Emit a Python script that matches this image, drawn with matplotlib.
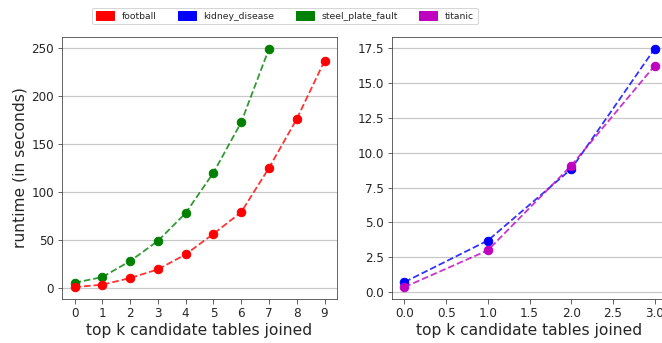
"""Runtime of joining the top-k candidate tables, per dataset."""

import matplotlib

matplotlib.use("Agg")
import matplotlib.pyplot as plt
from matplotlib.patches import Patch

# left panel: k = 0..9
k_left = [0, 1, 2, 3, 4, 5, 6, 7, 8, 9]
football = [1.0, 3.5, 10.4, 19.4, 35.0, 56.4, 79.0, 125.0, 176.0, 236.5]
steel_plate_fault = [5.5, 11.4, 28.0, 49.0, 78.0, 120.0, 172.5, 249.0]

# right panel: k = 0..3
k_right = [0, 1, 2, 3]
kidney_disease = [0.72, 3.7, 8.83, 17.45]
titanic = [0.36, 3.0, 9.07, 16.23]

names = ["football", "kidney_disease", "steel_plate_fault", "titanic"]
colors = {"football": "r", "kidney_disease": "b", "steel_plate_fault": "g", "titanic": "m"}

plt.rcParams["text.color"] = "#262626"
plt.rcParams["axes.labelcolor"] = "#262626"
plt.rcParams["xtick.color"] = "#262626"
plt.rcParams["ytick.color"] = "#262626"

DPI = 72
fig = plt.figure(figsize=(662 / DPI, 343 / DPI), dpi=DPI)
ax1 = fig.add_axes([62 / 662, 1 - 299 / 343, 275 / 662, 262 / 343])
ax2 = fig.add_axes([392 / 662, 1 - 299 / 343, 275 / 662, 262 / 343])


def draw(ax, x, y, name):
    c = colors[name]
    ax.plot(x, y, "--", color=c, lw=1.8, alpha=0.8)
    ax.plot(x, y, "o", color=c, ms=8.5, lw=0)


draw(ax1, k_left[: len(steel_plate_fault)], steel_plate_fault, "steel_plate_fault")
draw(ax1, k_left, football, "football")
draw(ax2, k_right, kidney_disease, "kidney_disease")
draw(ax2, k_right, titanic, "titanic")

ax1.set_xticks(k_left)
ax1.set_yticks([0, 50, 100, 150, 200, 250])
ax2.set_xticks([0, 0.5, 1, 1.5, 2, 2.5, 3])
ax2.set_yticks([0, 2.5, 5, 7.5, 10, 12.5, 15, 17.5])

for ax in (ax1, ax2):
    ax.set_axisbelow(True)
    ax.grid(axis="y", color="#c8c8c8", lw=1.2)
    ax.tick_params(labelsize=12, color="#404040", length=4.5)
    for s in ax.spines.values():
        s.set_color("#404040")
    ax.set_xlabel("top k candidate tables joined", fontsize=15.5, labelpad=3)
ax1.set_ylabel("runtime (in seconds)", fontsize=15.5)

handles = [Patch(color=colors[n], label=n) for n in names]
fig.legend(handles=handles, loc="upper center", bbox_to_anchor=(285 / 662, 1 - 3 / 343),
           ncol=4, fontsize=9.2, frameon=True, columnspacing=2.3, handleheight=1.0)

fig.savefig("out.png", dpi=DPI)
